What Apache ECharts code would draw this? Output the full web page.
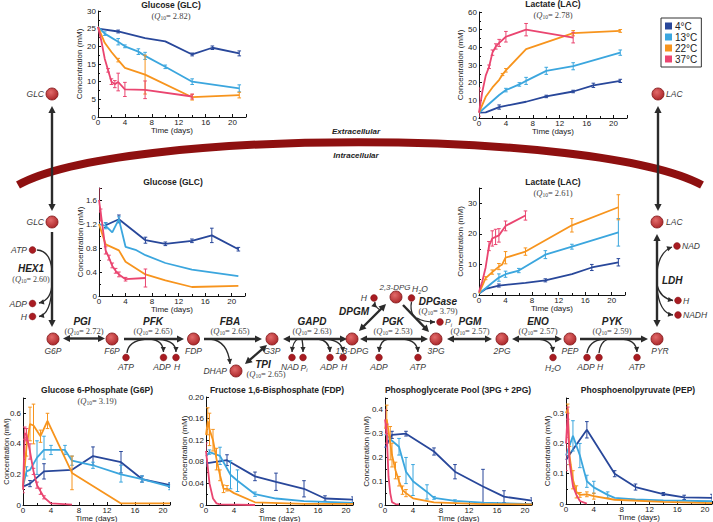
<!DOCTYPE html>
<html><head><meta charset="utf-8">
<script src="https://cdn.jsdelivr.net/npm/echarts@6/dist/echarts.min.js"></script>
<style>html,body{margin:0;padding:0;background:#fff}#c{width:713px;height:522px}</style>
</head><body><div id="c"></div>
<script>
// ---------------- DATA ----------------
const temps = ['4°C', '13°C', '22°C', '37°C'];

// Extracellular glucose (mM)
const glcExt4  = [[0,25],[3,24.2],[7,22.3],[10,21.4],[14,17.7],[17,19.6],[21,18]];
const glcExt13 = [[0,25.5],[1,23.6],[3,21.3],[4,20],[6,18.5],[7,17.3],[10,14.2],[14,10],[21,8.1]];
const glcExt22 = [[0,25.5],[1,21],[2,18.4],[3,16.1],[4,13.9],[7,12],[14,5.6],[21,6.2]];
const glcExt37 = [[0,25.5],[0.5,21.5],[1,16.5],[1.5,13.2],[2,10],[2.5,9.3],[3,9.9],[4,7.8],[7,7.7],[14,5.8]];
const glcExt4Err  = [[3,23.8,24.6],[14,17.3,18.1],[17,19.1,20.1],[21,17.3,18.7]];
const glcExt13Err = [[1,23.1,24.1],[3,20.4,22.2],[4,19.6,20.4],[6,17.7,19.3],[7,16.3,18.3],[10,13.7,14.7],[14,9.2,10.8],[21,7.1,9.1]];
const glcExt22Err = [[3,15.6,16.6],[7,6.5,17.5],[14,4.8,6.4],[21,5.4,7]];
const glcExt37Err = [[1.5,12.7,13.7],[2,9.2,10.8],[2.5,8.3,10.3],[3,7.4,12.4],[4,5.8,9.8],[7,5.2,10.2],[14,5.1,6.5]];

// Extracellular lactate (mM)
const lacExt4  = [[0,3],[1,3.2],[3,6.2],[7,9.2],[10,12.2],[14,15],[17,18.5],[21,21]];
const lacExt13 = [[0,3],[3,13],[4,15.8],[6,19],[7,21],[10,26.7],[14,29.3],[21,37]];
const lacExt22 = [[0,3],[1,12],[2,17.3],[3,21.6],[3.5,24.6],[4,27],[7,39],[14,48],[21,49.3]];
const lacExt37 = [[0,3],[0.5,15],[1,24],[1.5,29],[2,37],[2.5,40.5],[3,42.5],[4,46],[7,50],[14,45.5]];
const lacExt4Err  = [[3,5,7.4],[10,11.5,12.9],[14,14.3,15.7],[17,17.3,19.7],[21,20.1,21.9]];
const lacExt13Err = [[4,14.8,16.8],[6,18,20],[7,19,23],[10,24.7,28.7],[14,27.3,31.3],[21,35.5,38.5]];
const lacExt22Err = [[3.5,24,25.2],[4,26,28],[14,46.5,49.5],[21,48.5,50.1]];
const lacExt37Err = [[0,1,17],[1.5,28,30],[2,35.5,38.5],[2.5,39,42],[3,40.5,44.5],[4,43,49],[7,46.5,53.5],[14,42.5,48.5]];

// Intracellular glucose (mM)
const glcInt4  = [[1,1.18],[3,1.28],[7,0.93],[10,0.87],[14,0.92],[17,1.01],[21,0.78]];
const glcInt13 = [[0,1.2],[1,1.17],[2,1.06],[3,1.28],[4,0.82],[5.5,0.77],[7,0.68],[10,0.55],[14,0.44],[21,0.33]];
const glcInt22 = [[0,1.2],[1,0.86],[3,0.76],[4,0.57],[7,0.36],[10,0.26],[14,0.15],[21,0.17]];
const glcInt37 = [[0,1.6],[0.25,1.4],[1,0.76],[1.5,0.64],[2,0.5],[2.5,0.42],[3,0.36],[4,0.28],[7,0.3]];
const glcInt4Err  = [[1,1.14,1.22],[3,1.22,1.35],[7,0.88,0.98],[10,0.84,0.9],[14,0.89,0.95],[17,0.89,1.13],[21,0.75,0.81]];
const glcInt13Err = [[1,1.12,1.22],[3,1.24,1.32]];
const glcInt22Err = [];
const glcInt37Err = [[0,1.4,1.8],[0.25,1.25,1.45],[1,0.7,0.82],[1.5,0.6,0.68],[2,0.47,0.55],[2.5,0.38,0.46],[3,0.32,0.4],[4,0.25,0.31],[7,0.15,0.45]];

// Intracellular lactate (mM)
const lacInt4  = [[0,0.5],[1,2],[3,3.1],[7,4],[10,4.8],[14,6.8],[17,9],[21,10.7]];
const lacInt13 = [[0,0.5],[1,2.2],[2,4],[3,5.7],[4,6.8],[6,8],[10,13.2],[14,15.8],[21,20.5]];
const lacInt22 = [[0,0.5],[1,5.5],[2,7.5],[3,9.3],[3.5,10],[4,12.2],[7,14.2],[14,22.8],[21,28.7]];
const lacInt37 = [[0,1],[0.5,4.5],[1,9],[1.5,16],[2,18.5],[2.5,19],[3,19.5],[4,22.6],[7,26]];
const lacInt4Err  = [[3,2.6,3.6],[10,4.3,5.3],[17,8,10],[21,9.5,11.9]];
const lacInt13Err = [[3,4.5,6.9],[4,5.8,7.8],[6,7.3,8.7],[10,11.9,14.5],[14,15,16.6],[21,16,25]];
const lacInt22Err = [[1,5,6],[2,6.8,8.2],[3,8.3,10.3],[4,10.2,14.2],[7,13,15.4],[14,20.6,25],[21,24.6,32.8]];
const lacInt37Err = [[1.5,14.5,17.5],[2,16,21],[2.5,16.5,21.5],[3,17.3,21.7],[4,21,24.2],[7,24.5,27.5]];

// Glucose 6-phosphate (mM)
const g6p4  = [[0,0.12],[1,0.14],[3,0.22],[7,0.23],[10,0.32],[14,0.28],[17,0.17],[21,0.13]];
const g6p13 = [[0,0.12],[0.5,0.22],[1,0.23],[2,0.31],[3,0.36],[4,0.36],[6,0.36],[7,0.29],[10,0.26],[14,0.2],[17,0.17],[21,0.12]];
const g6p22 = [[0,0.12],[0.5,0.38],[1,0.53],[1.5,0.52],[2.5,0.45],[3.5,0.55],[7,0.21],[14,0.01],[21,0.01]];
const g6p37 = [[0,0.1],[0.25,0.47],[0.5,0.46],[1,0.35],[1.5,0.22],[2,0.13],[2.5,0.09],[3,0.05],[4,0.01],[7,0.003]];
const g6p4Err  = [[1,0.12,0.16],[3,0.17,0.27],[10,0.26,0.38],[14,0.21,0.35],[17,0.15,0.19],[21,0.115,0.145]];
const g6p13Err = [[0.5,0.19,0.25],[2,0.2,0.42],[3,0.3,0.45],[4,0.33,0.39],[6,0.33,0.39],[7,0.26,0.32],[10,0.24,0.28],[14,0.15,0.26],[17,0.15,0.19],[21,0.1,0.14]];
const g6p22Err = [[0.5,0.32,0.44],[1,0.42,0.64],[1.5,0.4,0.66],[2.5,0.41,0.49],[3.5,0.5,0.6],[7,0.1,0.32]];
const g6p37Err = [[0,0.08,0.12],[0.25,0.43,0.51],[0.5,0.42,0.5],[1,0.3,0.4],[1.5,0.2,0.24],[2,0.11,0.15],[2.5,0.07,0.11],[3,0.04,0.06]];

// Fructose 1,6-bisphosphate (mM)
const fdp4  = [[0,0.077],[3,0.083],[7,0.053],[10,0.043],[14,0.03],[17,0.012],[21,0.01]];
const fdp13 = [[0,0.09],[0.5,0.098],[2,0.091],[3.5,0.056],[4.5,0.045],[7,0.02],[10,0.012],[14,0.007],[21,0.004]];
const fdp22 = [[0,0.13],[0.25,0.155],[0.5,0.14],[1,0.12],[1.5,0.085],[2,0.055],[2.5,0.03],[3,0.03],[4,0.022],[7,0.005],[14,0.002],[21,0.002]];
const fdp37 = [[0,0.1],[0.25,0.07],[0.5,0.04],[1,0.012],[1.5,0.003],[2,0.001],[7,0]];
const fdp4Err  = [[0,0.072,0.082],[3,0.073,0.093],[7,0.045,0.061],[10,0.027,0.059],[14,0.015,0.045],[17,0.007,0.017],[21,0.005,0.015]];
const fdp13Err = [[0.5,0.094,0.102],[2,0.075,0.107],[3.5,0.03,0.082],[4.5,0.025,0.065],[7,0.016,0.024]];
const fdp22Err = [[0.25,0.13,0.18],[0.5,0.11,0.17],[1,0.1,0.14],[1.5,0.065,0.105],[2,0.045,0.065],[2.5,0.023,0.037],[3,0.026,0.036]];
const fdp37Err = [[0,0.085,0.115]];

// Phosphoglycerate pool (mM)
const pg4  = [[0,0.24],[1,0.295],[3,0.3],[7,0.225],[10,0.14],[14,0.078],[17,0.035],[21,0.018]];
const pg13 = [[0,0.3],[1,0.27],[2,0.245],[3,0.14],[4,0.1],[6,0.055],[7,0.03],[10,0.017],[14,0.01],[21,0.004]];
const pg22 = [[0,0.32],[0.25,0.36],[0.75,0.26],[1,0.21],[1.5,0.146],[2,0.1],[2.5,0.063],[3,0.05],[4,0.028],[7,0.011],[14,0.004],[21,0.003]];
const pg37 = [[0,0.36],[0.25,0.3],[0.5,0.12],[0.75,0.05],[1,0.012],[1.5,0.004],[2,0.003]];
const pg4Err  = [[1,0.28,0.31],[3,0.29,0.31],[7,0.21,0.24],[10,0.11,0.17],[14,0.005,0.15],[17,0.01,0.06],[21,0.005,0.03]];
const pg13Err = [[2,0.21,0.28],[3,0.09,0.2],[4,0.04,0.17],[6,0.025,0.085],[7,0.024,0.036],[10,0.012,0.022]];
const pg22Err = [[0.25,0.3,0.42],[0.75,0.19,0.33],[1,0.16,0.26],[1.5,0.11,0.18],[2,0.08,0.12],[2.5,0.045,0.08],[3,0.035,0.065]];
const pg37Err = [[0,0.3,0.4],[0.25,0.26,0.34]];

// Phosphoenolpyruvate (mM)
const pep4  = [[0,0.145],[1,0.18],[3,0.245],[7,0.1],[10,0.056],[14,0.033],[17,0.022],[21,0.02]];
const pep13 = [[0,0.16],[1,0.225],[2,0.16],[3,0.075],[4,0.055],[6,0.03],[7,0.02],[10,0.015],[14,0.012],[21,0.009]];
const pep22 = [[0,0.3],[0.25,0.315],[0.5,0.16],[1,0.08],[1.5,0.04],[2,0.03],[3,0.032],[4,0.026],[7,0.014],[14,0.007],[21,0.003]];
const pep37 = [[0,0.2],[0.25,0.3],[0.5,0.14],[1,0.06],[1.5,0.03],[2,0.01],[3,0.001]];
const pep4Err  = [[0,0.13,0.16],[3,0.218,0.272],[7,0.09,0.11],[10,0.046,0.066],[14,0.028,0.038],[17,0.015,0.029],[21,0.008,0.032]];
const pep13Err = [[1,0.175,0.275],[2,0.12,0.2],[3,0.055,0.095],[4,0.035,0.075],[6,0.02,0.04]];
const pep22Err = [[0.25,0.3,0.33],[0.5,0.13,0.19],[1,0.05,0.11],[1.5,0.02,0.06],[2,0.022,0.038],[3,0.024,0.04],[4,0.016,0.036]];
const pep37Err = [[0,0.11,0.22],[0.25,0.28,0.32]];

// Panel titles and Q10 values
const panelTitles = ['Glucose (GLC)', 'Lactate (LAC)', 'Glucose (GLC)', 'Lactate (LAC)',
  'Glucose 6-Phosphate (G6P)', 'Fructose 1,6-Bisphosphate (FDP)', 'Phosphoglycerate Pool (3PG + 2PG)', 'Phosphoenolpyruvate (PEP)'];
const panelQ10 = ['2.82', '2.78', null, '2.61', '3.19', null, null, null];
const yTickStep = [5, 10, 0.4, 10, 0.2, 0.04, 0.1, 0.1];
const yTop = [30, 60, 1.8, 35, 0.7, 0.2, 0.45, 0.35];

// ---------------- STYLE / LAYOUT ----------------
const colors = ['#28479a', '#3ba6de', '#f7941d', '#ea4570'];
const FONT = '"Liberation Sans", Arial, sans-serif';
const SERIF = '"Liberation Serif", "Times New Roman", serif';
const panelSeries = [
  [glcExt4, glcExt13, glcExt22, glcExt37], [lacExt4, lacExt13, lacExt22, lacExt37],
  [glcInt4, glcInt13, glcInt22, glcInt37], [lacInt4, lacInt13, lacInt22, lacInt37],
  [g6p4, g6p13, g6p22, g6p37], [fdp4, fdp13, fdp22, fdp37],
  [pg4, pg13, pg22, pg37], [pep4, pep13, pep22, pep37]];
const panelErr = [
  [glcExt4Err, glcExt13Err, glcExt22Err, glcExt37Err], [lacExt4Err, lacExt13Err, lacExt22Err, lacExt37Err],
  [glcInt4Err, glcInt13Err, glcInt22Err, glcInt37Err], [lacInt4Err, lacInt13Err, lacInt22Err, lacInt37Err],
  [g6p4Err, g6p13Err, g6p22Err, g6p37Err], [fdp4Err, fdp13Err, fdp22Err, fdp37Err],
  [pg4Err, pg13Err, pg22Err, pg37Err], [pep4Err, pep13Err, pep22Err, pep37Err]];
const layout = [
  {left: 98, top: 11, width: 148, height: 106, xMax: 22, tx: 171, ty: 5, nameGapY: 15, nameGapX: 8, nameSize: 8},
  {left: 479, top: 12, width: 148, height: 106, xMax: 22, tx: 553, ty: 4, nameGapY: 15, nameGapX: 8, nameSize: 8},
  {left: 99, top: 188, width: 146, height: 108, xMax: 22, tx: 173, ty: 182, nameGapY: 15, nameGapX: 8, nameSize: 8},
  {left: 479, top: 188, width: 146, height: 107, xMax: 22, tx: 553, ty: 182, nameGapY: 15, nameGapX: 8, nameSize: 8},
  {left: 23, top: 398, width: 147, height: 107, xMax: 21, tx: 97, ty: 390, nameGapY: 12.5, nameGapX: 6, nameSize: 7.5},
  {left: 206, top: 397, width: 147, height: 108, xMax: 21, tx: 277, ty: 390, nameGapY: 18, nameGapX: 6, nameSize: 8},
  {left: 385, top: 398, width: 147, height: 107, xMax: 21, tx: 458, ty: 390, nameGapY: 15, nameGapX: 6, nameSize: 8},
  {left: 566, top: 398, width: 146, height: 106, xMax: 21, tx: 638, ty: 390, nameGapY: 15, nameGapX: 6, nameSize: 8}
];

const grids = [], xAxes = [], yAxes = [], series = [];
layout.forEach((L, i) => {
  grids.push({left: L.left, top: L.top, width: L.width, height: L.height, containLabel: false, outerBoundsMode: 'none'});
  xAxes.push({
    gridIndex: i, type: 'value', min: 0, max: L.xMax, interval: 4,
    name: 'Time (days)', nameLocation: 'middle', nameGap: L.nameGapX,
    nameTextStyle: {fontSize: 8, color: '#222', fontFamily: FONT},
    axisLine: {lineStyle: {color: '#111', width: 1}},
    axisTick: {inside: true, length: 3, lineStyle: {color: '#111'}},
    minorTick: {show: true, splitNumber: 2, length: 2, lineStyle: {color: '#111'}},
    axisLabel: {fontSize: 8, color: '#222', margin: 1, showMaxLabel: false, fontFamily: FONT},
    splitLine: {show: false}
  });
  const step = yTickStep[i];
  const onStep = Math.abs(yTop[i] / step - Math.round(yTop[i] / step)) < 1e-6;
  yAxes.push({
    gridIndex: i, type: 'value', min: 0, max: yTop[i], interval: step,
    name: 'Concentration (mM)', nameLocation: 'middle', nameGap: L.nameGapY, nameMoveOverlap: false,
    nameTextStyle: {fontSize: L.nameSize, color: '#222', fontFamily: FONT},
    axisLine: {show: true, lineStyle: {color: '#111', width: 1}},
    axisTick: {show: true, inside: true, length: 3, lineStyle: {color: '#111'}},
    minorTick: {show: true, splitNumber: 2, length: 2, lineStyle: {color: '#111'}},
    axisLabel: {fontSize: 8, color: '#222', margin: 2, showMaxLabel: onStep, fontFamily: FONT,
      formatter: v => v === 0 ? '0' : (step < 0.1 ? v.toFixed(2) : String(+v.toFixed(2)))},
    splitLine: {show: false}
  });
  panelSeries[i].forEach((d, t) => {
    series.push({
      type: 'line', name: temps[t], xAxisIndex: i, yAxisIndex: i, data: d,
      showSymbol: false, symbol: 'none', z: 3 + t, animation: false,
      color: colors[t], lineStyle: {width: 1.8, color: colors[t]}
    });
    series.push({
      type: 'custom', name: temps[t], xAxisIndex: i, yAxisIndex: i, data: panelErr[i][t],
      z: 3 + t, animation: false, clip: true, color: colors[t],
      encode: {x: 0, y: [1, 2]},
      renderItem: (params, api) => {
        const x = api.value(0), a = api.coord([x, api.value(1)]), b = api.coord([x, api.value(2)]);
        const st = {stroke: colors[t], lineWidth: 1};
        const c = 1.8;
        return {type: 'group', children: [
          {type: 'line', shape: {x1: a[0], y1: a[1], x2: b[0], y2: b[1]}, style: st},
          {type: 'line', shape: {x1: a[0] - c, y1: a[1], x2: a[0] + c, y2: a[1]}, style: st},
          {type: 'line', shape: {x1: b[0] - c, y1: b[1], x2: b[0] + c, y2: b[1]}, style: st}
        ]};
      }
    });
  });
});

// ---------------- DIAGRAM ----------------
const INK = '#2b2b2b';
const MFONT = 'italic 8.5px ' + FONT;
const G = [];
function ln(x1, y1, x2, y2, w) { return {type: 'line', silent: true, shape: {x1, y1, x2, y2}, style: {stroke: INK, lineWidth: w}}; }
function tri(tx, ty, fx, fy, L, W) {
  const dx = tx - fx, dy = ty - fy, d = Math.hypot(dx, dy), ux = dx / d, uy = dy / d;
  const bx = tx - ux * L, by = ty - uy * L;
  return {type: 'polygon', silent: true, shape: {points: [[tx, ty], [bx - uy * W, by + ux * W], [bx + uy * W, by - ux * W]]}, style: {fill: INK}};
}
function arr(x1, y1, x2, y2, both, w = 2.4, L = 7, W = 3.6) {
  const dx = x2 - x1, dy = y2 - y1, d = Math.hypot(dx, dy), ux = dx / d, uy = dy / d;
  const sx = both ? x1 + ux * (L - 1) : x1, sy = both ? y1 + uy * (L - 1) : y1;
  G.push(ln(sx, sy, x2 - ux * (L - 1), y2 - uy * (L - 1), w));
  G.push(tri(x2, y2, x1, y1, L, W));
  if (both) G.push(tri(x1, y1, x2, y2, L, W));
}
function crv(x1, y1, cx, cy, x2, y2, head) {
  G.push({type: 'bezierCurve', silent: true, shape: {x1, y1, x2, y2, cpx1: cx, cpy1: cy}, style: {stroke: INK, lineWidth: 1.3, fill: 'none'}});
  if (head) G.push(tri(x2, y2, cx, cy, 5, 2.6));
}
function big(x, y) {
  G.push({type: 'circle', silent: true, shape: {cx: x, cy: y, r: 6},
    style: {fill: {type: 'radial', x: 0.4, y: 0.35, r: 0.75, colorStops: [{offset: 0, color: '#e26a6a'}, {offset: 1, color: '#a51f22'}]}, stroke: '#7e1315', lineWidth: 0.8}});
}
function small(x, y) { G.push({type: 'circle', silent: true, shape: {cx: x, cy: y, r: 3.4}, style: {fill: '#a81c22', stroke: '#7e1315', lineWidth: 0.5}}); }
function met(s, x, y, align = 'center', va = 'top') {
  G.push({type: 'text', silent: true, style: {text: s, x, y, align, verticalAlign: va, font: MFONT, fill: '#3a3a3a'}});
}
function rich(s, x, y, align, va, richDef) {
  G.push({type: 'text', silent: true, style: {text: s, x, y, align, verticalAlign: va, font: MFONT, fill: '#3a3a3a', rich: richDef}});
}
const subRich = {s: {fontSize: 5.5, fontStyle: 'italic', fontFamily: FONT, fill: '#3a3a3a', padding: [5, 0, 0, 0]}};
function enz(s, x, y) {
  G.push({type: 'text', silent: true, style: {text: s, x, y, align: 'center', verticalAlign: 'middle', font: 'italic bold 10px ' + FONT, fill: '#222'}});
}
const qRich = {q: {fontStyle: 'italic', fontFamily: SERIF, fontSize: 8.5, fill: '#444'}, s: {fontFamily: SERIF, fontSize: 5.5, fill: '#444', padding: [4, 0, 0, 0]}};
function q10(v, x, y, size = 8.5) {
  G.push({type: 'text', silent: true, style: {text: '({q|Q}{s|10}= ' + v + ')', x, y, align: 'center', verticalAlign: 'middle', font: size + 'px ' + SERIF, fill: '#444', rich: qRich}});
}

// panel titles
layout.forEach((L, i) => {
  G.push({type: 'text', silent: true, style: {text: panelTitles[i], x: L.tx, y: L.ty, align: 'center', verticalAlign: 'middle', font: 'bold 8.5px ' + FONT, fill: '#222'}});
  if (panelQ10[i]) q10(panelQ10[i], L.tx, L.ty + 11, 8.5);
});

// membrane
G.push({type: 'bezierCurve', silent: true, shape: {x1: 18, y1: 185, cpx1: 120, cpy1: 128, cpx2: 596, cpy2: 128, x2: 702, y2: 185}, style: {stroke: '#8e1010', lineWidth: 8, fill: 'none'}});
G.push({type: 'text', silent: true, style: {text: 'Extracellular', x: 356, y: 131, align: 'center', verticalAlign: 'middle', font: 'italic bold 8px ' + FONT, fill: '#222'}});
G.push({type: 'text', silent: true, style: {text: 'Intracellular', x: 356, y: 155, align: 'center', verticalAlign: 'middle', font: 'italic bold 8px ' + FONT, fill: '#222'}});

// left column: glucose uptake and HEX1
big(52, 94); met('GLC', 44, 94, 'right', 'middle');
arr(52, 106, 52, 211, true);
big(52, 222); met('GLC', 44, 222, 'right', 'middle');
arr(52, 232, 52, 327, false);
small(32.5, 250); met('ATP', 27, 250, 'right', 'middle');
crv(37, 250, 51, 251, 52, 272, false);
enz('HEX1', 31, 268); q10('2.60', 31, 279, 8);
crv(52, 282, 52, 300, 39, 303, true); small(32.5, 303.5); met('ADP', 27, 303.5, 'right', 'middle');
crv(52, 286, 51, 314, 39, 316.5, true); small(32.5, 316.5); met('H', 27, 316.5, 'right', 'middle');

// glycolysis row
big(53, 339); met('G6P', 53, 346);
enz('PGI', 82, 321); q10('2.72', 84, 330.5);
arr(63, 338.5, 105, 338.5, true);
big(112, 339); met('F6P', 112, 346);
enz('PFK', 153, 321); q10('2.65', 153, 330.5);
arr(124, 339, 184, 339, false);
small(126, 357.5); met('ATP', 126, 362);
crv(127, 353, 128, 341, 146, 339, false);
crv(150, 339, 163, 340, 163.5, 352, true); small(163.5, 357.5); met('ADP', 162, 362);
crv(153, 339, 176, 339, 176, 352, true); small(176, 357.5); met('H', 177, 362);
big(193.5, 339); met('FDP', 193.5, 346);
enz('FBA', 230, 321); q10('2.65', 230, 330.5);
arr(204, 339, 262, 339, false);
crv(210, 339, 228, 341, 230, 364, true);
big(236, 371); met('DHAP', 227, 371, 'right', 'middle');
big(272, 339); met('G3P', 272, 346);
arr(245, 364, 267, 345, true);
enz('TPI', 263, 364); q10('2.65', 266, 374);
enz('GAPD', 312, 321); q10('2.63', 312, 330.5);
arr(283, 339, 347, 339, true);
crv(298, 339, 293, 341, 292, 352, true); small(292, 357.5); met('NAD', 290, 362);
crv(302, 339, 303, 344, 303, 352, true); small(303, 357.5); rich('P{s|i}', 304, 362, 'center', 'top', subRich);
crv(318, 339, 329, 340, 330, 352, true); small(330, 357.5); met('ADP', 329, 362);
crv(322, 339, 342, 339, 343, 352, true); small(343, 357.5); met('H', 344, 362);
big(352, 339); met('1,3-DPG', 352, 346);
enz('DPGM', 354, 311);
arr(359, 331, 386, 304, true);
big(396, 297);
G.push({type: 'text', silent: true, style: {text: '2,3-DPG', x: 395, y: 287, align: 'center', verticalAlign: 'middle', font: 'italic 8px ' + FONT, fill: '#3a3a3a'}});
crv(380, 310, 374, 306, 375, 302, true); small(374, 298); met('H', 367, 298, 'right', 'middle');
small(411.5, 298); rich('H{s|2}O', 420, 289, 'center', 'middle', subRich);
enz('DPGase', 438, 301); q10('3.79', 438, 311);
arr(403, 305, 429, 332, false);
crv(411.5, 302, 410, 309, 413, 315, false);
crv(417, 318, 423, 322, 435, 322, true); small(440, 322); rich('P{s|i}', 445, 322, 'left', 'middle', subRich);
enz('PGK', 393, 321); q10('2.53', 393, 330.5);
arr(360, 339, 428, 339, true);
crv(388, 339, 380, 340, 379, 352, true); small(379, 357.5); met('ADP', 379, 362);
crv(403, 339, 417, 340, 418, 352, true); small(418, 357.5); met('ATP', 418, 362);
big(436, 339); met('3PG', 436, 346);
enz('PGM', 470, 321); q10('2.57', 470, 330.5);
arr(447, 339, 492, 339, true);
big(502, 339); met('2PG', 502, 346);
enz('ENO', 538, 321); q10('2.57', 538, 330.5);
arr(512, 339, 562, 339, true);
crv(536, 339, 552, 339, 553, 352, true); small(553, 357.5); rich('H{s|2}O', 553, 362, 'center', 'top', subRich);
big(570, 339); met('PEP', 570, 346);
enz('PYK', 612, 321); q10('2.59', 612, 330.5);
arr(580, 339, 648, 339, false);
small(587, 357.5); met('ADP', 586, 362); crv(587, 353, 589, 341, 603, 339, false);
small(599, 357.5); met('H', 600, 362); crv(599, 353, 600, 342, 608, 339, false);
crv(620, 339, 636, 339, 637, 352, true); small(637, 357.5); met('ATP', 637, 362);
big(657, 339); met('PYR', 660, 346);

// right column: lactate and LDH
big(658, 94); met('LAC', 666, 94, 'left', 'middle');
arr(658, 106, 658, 211, true);
big(657, 222); met('LAC', 666, 222, 'left', 'middle');
arr(657, 234, 657, 327, true);
G.push({type: 'text', silent: true, style: {text: 'LDH', x: 662, y: 280, align: 'left', verticalAlign: 'middle', font: 'italic bold 10px ' + FONT, fill: '#222'}});
crv(657, 272, 659, 252, 672, 247, true); small(677, 246); met('NAD', 682, 246, 'left', 'middle');
crv(657, 285, 660, 298, 673, 300.5, true); small(678, 300.5); met('H', 683, 300.5, 'left', 'middle');
crv(657, 287, 659, 313, 673, 315, true); small(678, 315); met('NADH', 683, 315, 'left', 'middle');

const chart = echarts.init(document.getElementById('c'), null, {renderer: 'svg'});
chart.setOption({
  animation: false,
  backgroundColor: '#fff',
  textStyle: {fontFamily: FONT},
  grid: grids, xAxis: xAxes, yAxis: yAxes, series,
  legend: {
    data: temps.map(n => ({name: n, icon: 'rect'})), orient: 'vertical', left: 661, top: 18,
    itemWidth: 7, itemHeight: 7, itemGap: 1, padding: [3, 4, 3, 4],
    borderColor: '#333', borderWidth: 1, selectedMode: false,
    textStyle: {fontSize: 10, color: '#222', fontFamily: FONT, padding: [0, 0, 0, -2]}
  },
  graphic: {elements: G}
});
</script></body></html>
